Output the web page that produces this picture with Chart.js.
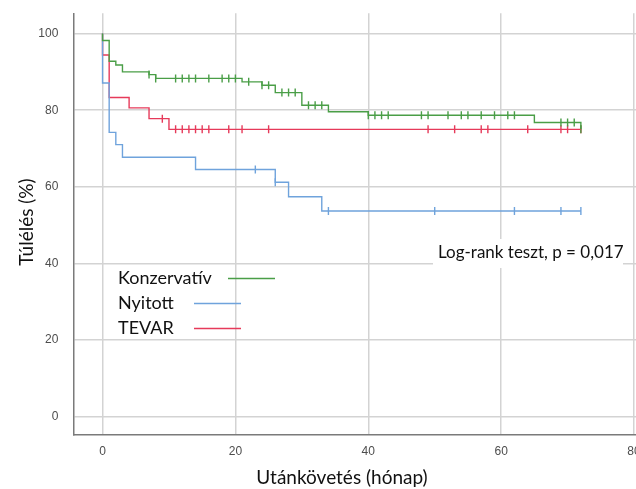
<!DOCTYPE html>
<html><head><meta charset="utf-8">
<script src="https://cdn.jsdelivr.net/npm/chart.js@4/dist/chart.umd.min.js"></script>
<style>html,body{margin:0;padding:0;overflow:hidden;background:#fff}#wrap{width:666px;height:489px}</style>
</head><body><div id="wrap"><canvas id="c"></canvas></div>
<script>
// ---- data ----
const groupNames = ['Konzervatív', 'Nyitott', 'TEVAR'];
const xTicks = [0, 20, 40, 60, 80];
const yTicks = [0, 20, 40, 60, 80, 100];
const xTitle = 'Utánkövetés (hónap)';
const yTitle = 'Túlélés (%)';
const noteText = 'Log-rank teszt, p = 0,017';

const konzTimes = [0, 0, 1, 2, 3, 7, 8, 21, 24, 26, 30, 34, 40, 65, 72];
const konzSurv  = [100, 98.2, 92.8, 91.8, 90.0, 89.3, 88.3, 87.4, 86.5, 84.6, 81.3, 79.6, 78.7, 76.8, 75.0];
const konzCensored = [7, 8, 11, 12, 13, 14, 16, 18, 19, 20, 22, 24, 25, 27, 28, 29, 31, 32, 33, 40, 41, 42, 43, 48, 49, 52, 54, 55, 57, 59, 61, 62, 69, 70, 71, 72];

const nyitTimes = [0, 0, 1, 2, 3, 14, 26, 28, 33, 72];
const nyitSurv  = [100, 87.1, 74.2, 71.0, 67.7, 64.5, 61.2, 57.4, 53.7, 53.7];
const nyitCensored = [23, 26, 34, 50, 62, 69, 72];

const tevarTimes = [0, 0, 1, 4, 7, 10, 72];
const tevarSurv  = [100, 94.4, 83.3, 80.6, 77.8, 75.0, 75.0];
const tevarCensored = [9, 11, 12, 13, 14, 15, 16, 19, 21, 25, 49, 53, 57, 58, 64, 69, 70, 72];

// ---- helpers ----
function stepPoints(times, surv) { return times.map((t, i) => ({x: t, y: surv[i]})); }
function survAt(times, surv, t) {
  let v = surv[0];
  for (let i = 0; i < times.length; i++) if (times[i] <= t) v = surv[i];
  return v;
}
function censorPoints(times, surv, cens) { return cens.map(t => ({x: t, y: survAt(times, surv, t)})); }

const colors = ['#4a9e47', '#6fa3dc', '#e63a5a'];
const groups = [
  [konzTimes, konzSurv, konzCensored],
  [nyitTimes, nyitSurv, nyitCensored],
  [tevarTimes, tevarSurv, tevarCensored]
];

const datasets = [];
groups.forEach((g, i) => {
  datasets.push({
    type: 'line', label: groupNames[i], data: stepPoints(g[0], g[1]),
    borderColor: colors[i], borderWidth: 1.4, stepped: 'before', pointRadius: 0,
    fill: false, tension: 0, isLegend: true
  });
});
groups.forEach((g, i) => {
  datasets.push({
    type: 'scatter', label: groupNames[i] + ' cenzorált', data: censorPoints(g[0], g[1], g[2]),
    borderColor: colors[i], backgroundColor: colors[i], pointStyle: 'line', rotation: 90,
    pointRadius: 4, borderWidth: 1.4, showLine: false, isLegend: false
  });
});

const decor = {
  id: 'decor',
  beforeDatasetsDraw(chart) {
    const ctx = chart.ctx;
    ctx.save();
    ctx.fillStyle = '#ffffff';
    ctx.fillRect(433, 239, 190, 29);
    ctx.font = '17px Lato';
    ctx.fillStyle = '#111';
    ctx.textBaseline = 'middle';
    ctx.textAlign = 'left';
    ctx.fillText(noteText, 438, 253);
    ctx.restore();
  },
  afterDraw(chart) {
    const ctx = chart.ctx;
    ctx.save();
    ctx.fillStyle = '#111';
    ctx.font = '18px Lato';
    ctx.textBaseline = 'middle';
    const legendRows = chart.data.datasets.filter(d => d.isLegend);
    const rowY = [278, 303, 328];
    const lineStart = [228, 194, 194];
    const lineEnd = [275, 241, 241];
    legendRows.forEach((d, i) => {
      ctx.textAlign = 'left';
      ctx.fillStyle = '#111';
      ctx.fillText(d.label, 118, rowY[i]);
      ctx.strokeStyle = d.borderColor;
      ctx.lineWidth = 1.5;
      ctx.beginPath();
      ctx.moveTo(lineStart[i], rowY[i] + 0.5);
      ctx.lineTo(lineEnd[i], rowY[i] + 0.5);
      ctx.stroke();
    });
    ctx.textAlign = 'center';
    ctx.fillStyle = '#111';
    ctx.font = '19px Lato';
    ctx.fillText(xTitle, 342, 478);
    ctx.save();
    ctx.translate(27, 222);
    ctx.rotate(-Math.PI / 2);
    ctx.font = '19px Lato';
    ctx.fillText(yTitle, 0, 0);
    ctx.restore();
    ctx.restore();
  }
};

new Chart(document.getElementById('c'), {
  data: { datasets },
  options: {
    responsive: true, maintainAspectRatio: false, animation: false,
    layout: { padding: { top: 13.3, right: 5.4, left: 0, bottom: 0 } },
    plugins: { legend: { display: false }, tooltip: { enabled: false } },
    scales: {
      x: {
        type: 'linear', min: -4.4, max: 84,
        afterBuildTicks: a => { a.ticks = xTicks.map(v => ({ value: v })); },
        afterFit: s => { s.height = 54; s.paddingLeft = 0; s.paddingRight = 0; },
        grid: { color: '#d3d3d3', lineWidth: 1.5, drawTicks: false },
        border: { color: '#7a7a7a', width: 1.5 },
        ticks: { padding: 9, color: '#4d4d4d', maxRotation: 0, font: { family: 'Liberation Sans', size: 12 } }
      },
      y: {
        type: 'linear', min: -4.8, max: 105.3,
        afterBuildTicks: a => { a.ticks = yTicks.map(v => ({ value: v })); },
        afterFit: s => { s.width = 73.3; s.paddingTop = 0; s.paddingBottom = 0; },
        grid: { color: '#d3d3d3', lineWidth: 1.5, drawTicks: false },
        border: { color: '#7a7a7a', width: 1.5 },
        ticks: { padding: 15, color: '#4d4d4d', font: { family: 'Liberation Sans', size: 12 } }
      }
    }
  },
  plugins: [decor]
});
</script>
</body></html>
